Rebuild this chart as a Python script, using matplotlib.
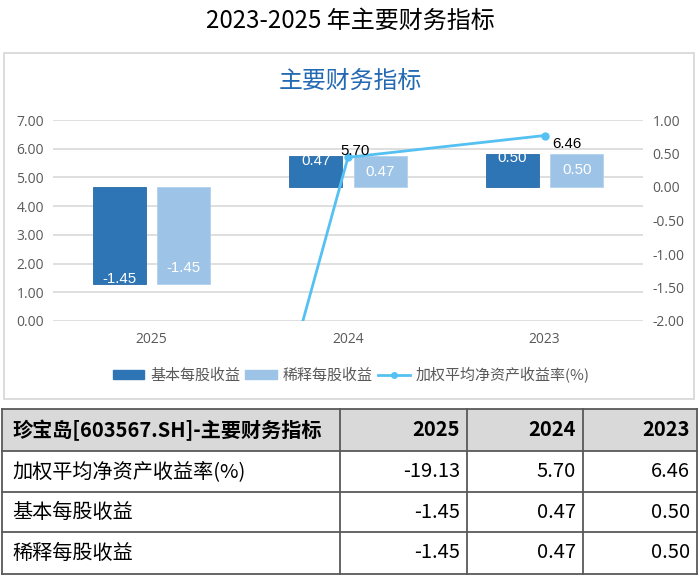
import numpy as np
import matplotlib
matplotlib.use("Agg")
import matplotlib.pyplot as plt
from matplotlib.patches import Rectangle, Patch
from matplotlib.lines import Line2D

plt.rcParams["font.family"] = ["Noto Sans CJK SC", "DejaVu Sans"]
plt.rcParams["axes.unicode_minus"] = False

# data
years = ["2025", "2024", "2023"]
roe = [-19.13, 5.70, 6.46]          # 加权平均净资产收益率(%)
eps_basic = [-1.45, 0.47, 0.50]     # 基本每股收益
eps_diluted = [-1.45, 0.47, 0.50]   # 稀释每股收益
row_names = ["加权平均净资产收益率(%)", "基本每股收益", "稀释每股收益"]
table_title = "珍宝岛[603567.SH]-主要财务指标"

C_DARK = "#2E75B6"
C_LIGHT = "#9DC3E6"
C_LINE = "#55C1F2"
C_TICK = "#595959"
C_GRID = "#D9D9D9"
NUM_FONT = ["Open Sans", "DejaVu Sans"]
LAB_FONT = ["Liberation Sans", "DejaVu Sans"]

W, H = 700, 576
fig = plt.figure(figsize=(W / 100, H / 100), dpi=100)

# background canvas in pixel coords (titles, box, table)
bg = fig.add_axes([0, 0, 1, 1])
bg.set_xlim(0, W)
bg.set_ylim(H, 0)
bg.axis("off")

bg.text(350, 21, "2023-2025 年主要财务指标", ha="center", va="center",
        fontsize=17.3, color="black")
bg.add_patch(Rectangle((4, 53), 690, 346, fill=False, edgecolor=C_GRID, lw=1.3))
bg.text(350, 81, "主要财务指标", ha="center", va="center",
        fontsize=17.2, color="#2469B3")

# ── chart ─────────────────────────────────────────────
ax = fig.add_axes([53 / W, 1 - 321 / H, 590 / W, 201 / H])
ax2 = ax.twinx()
ax3 = ax.twinx()

x = np.arange(len(years))
bw, off = 0.27, 0.163

ax.set_xlim(-0.5, len(years) - 0.5)
ax.set_ylim(0, 7)
ax.set_yticks(np.arange(0, 8, 1))
ax.set_yticklabels([f"{v:.2f}" for v in np.arange(0, 8, 1)])
ax.grid(axis="y", color=C_GRID, lw=1.2)
ax.set_axisbelow(True)
ax.set_xticks(x)
ax.set_xticklabels(years)
ax.tick_params(axis="x", length=0, pad=8, labelsize=10, labelcolor=C_TICK)
ax.tick_params(axis="y", length=0, pad=6.5, labelsize=10, labelcolor=C_TICK)
for lab in ax.get_xticklabels() + ax.get_yticklabels():
    lab.set_fontfamily(NUM_FONT)

ax2.bar(x - off, eps_basic, bw, color=C_DARK, edgecolor="#2A6AA6", lw=0.6)
ax2.bar(x + off, eps_diluted, bw, color=C_LIGHT, edgecolor="#B3D2EE", lw=0.6)
ax2.set_ylim(-2, 1)
ax2.set_yticks(np.arange(-2, 1.01, 0.5))
ax2.set_yticklabels([f"{v:.2f}" for v in np.arange(-2, 1.01, 0.5)])
ax2.tick_params(axis="y", length=0, pad=7, labelsize=10, labelcolor=C_TICK)
for lab in ax2.get_yticklabels():
    lab.set_fontfamily(NUM_FONT)
for xi, v in zip(x - off, eps_basic):
    s = 1 if v >= 0 else -1
    ax2.annotate(f"{v:.2f}", (xi, v), xytext=(0, -s * 5), textcoords="offset pixels",
                 ha="center", va="center", color="white", fontsize=10.8,
                 family=LAB_FONT)
for xi, v in zip(x + off, eps_diluted):
    s = 1 if v >= 0 else -1
    ax2.annotate(f"{v:.2f}", (xi, v), xytext=(0, -s * 16), textcoords="offset pixels",
                 ha="center", va="center", color="white", fontsize=10.8,
                 family=LAB_FONT)

ax3.plot(x, roe, color=C_LINE, lw=2, marker="o", ms=5)
ax3.set_ylim(0, 7)
ax3.set_yticks([])
lab_off = [(0, 0), (7, 6), (22, -8)]
for xi, v, (dx, dy) in zip(x, roe, lab_off):
    if 0 <= v <= 7:
        ax3.annotate(f"{v:.2f}", (xi, v), xytext=(dx, dy), textcoords="offset pixels",
                     ha="center", va="center", color="black", fontsize=10.8,
                     family=LAB_FONT)

for a in (ax, ax2, ax3):
    for sp in a.spines.values():
        sp.set_visible(False)

handles = [Patch(color=C_DARK), Patch(color=C_LIGHT),
           Line2D([], [], color=C_LINE, lw=2, marker="o", ms=4)]
leg = fig.legend(handles, ["基本每股收益", "稀释每股收益", "加权平均净资产收益率(%)"],
                 loc="center", bbox_to_anchor=(351 / W, 1 - 375 / H), ncol=3,
                 frameon=False, fontsize=10.8, handlelength=2.1, handleheight=0.6,
                 handletextpad=0.4, columnspacing=0.35, labelcolor=C_TICK)

# ── table ─────────────────────────────────────────────
col_edges = [2, 340, 467, 583, 697]
row_edges = [409, 451, 492, 532, 574]
bg.add_patch(Rectangle((col_edges[0], row_edges[0]), col_edges[-1] - col_edges[0],
                       row_edges[1] - row_edges[0], facecolor="#D9D9D9", edgecolor="none"))
for xe in col_edges:
    bg.plot([xe, xe], [row_edges[0], row_edges[-1]], color="#595959", lw=1.3)
for ye in row_edges:
    bg.plot([col_edges[0], col_edges[-1]], [ye, ye], color="#595959", lw=1.3)

cells = [[table_title] + years]
for name, vals in zip(row_names, [roe, eps_basic, eps_diluted]):
    cells.append([name] + [f"{v:.2f}" for v in vals])

for r, row in enumerate(cells):
    yc = (row_edges[r] + row_edges[r + 1]) / 2
    weight = "bold" if r == 0 else "normal"
    for c, txt in enumerate(row):
        if c == 0:
            bg.text(col_edges[0] + 10, yc, txt, ha="left", va="center",
                    fontsize=14.5, weight=weight, color="black")
        else:
            bg.text(col_edges[c + 1] - 7, yc, txt, ha="right", va="center",
                    fontsize=14.5, weight=weight, color="black")

fig.savefig("out.png", dpi=100)
